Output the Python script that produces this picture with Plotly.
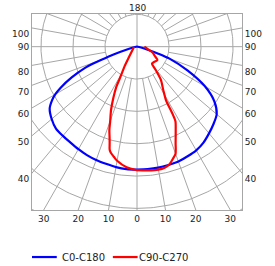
import numpy as np
import plotly.graph_objects as go

# ---- data (cd/klm, angle in degrees from nadir) ----
c0_left_angles = [90, 85, 80, 75, 72, 70, 69, 68, 65, 62, 60, 58, 55, 50, 45, 40, 35, 30, 25, 20, 15, 10, 5, 0]
c0_left_vals = [0, 1.5, 5, 15, 37.5, 60, 75, 87.5, 112.5, 135, 147.5, 156.5, 166.5, 174, 179, 180, 181, 183, 185, 186.5, 187.5, 189, 190, 190]
c0_right_angles = [0, 5, 10, 15, 20, 25, 30, 35, 40, 45, 50, 55, 60, 65, 70, 72, 75, 80, 85, 90]
c0_right_vals = [190, 190, 190, 189.5, 189, 187, 185, 181, 175, 169, 162.5, 147.5, 122.5, 87.5, 54, 35, 15, 5, 1.5, 0]

c90_left_angles = [90, 70, 50, 38, 32.5, 30, 28.5, 27.5, 25, 22.5, 20, 18.5, 17, 16, 15, 14, 12, 10, 5, 0]
c90_left_vals = [4.5, 6, 10, 20, 36.5, 47.5, 57.5, 70, 87.5, 106, 122.5, 136, 146.5, 155, 165, 169, 174, 179, 187, 191]
c90_right_angles = [0, 5, 10, 13, 15.5, 18, 20, 22, 25, 27.5, 28.2, 28.6, 31.5, 36, 39, 42, 50, 57, 63, 70, 76, 90]
c90_right_vals = [191, 192, 193, 192, 189, 182, 176, 161, 143, 130, 115, 95, 78.5, 63.5, 46.5, 35, 36, 38, 31, 26, 18.5, 11.5]

series_names = ["C0-C180", "C90-C270"]
series_colors = ["#0000ff", "#ff0000"]

ring_values = [50, 100, 150, 200, 250, 300]
spoke_angles = list(range(0, 360, 10))
side_labels = [100, 90, 80, 70, 60, 50, 40]
bottom_labels = [30, 20, 10, 0, 10, 20, 30]
bottom_angles = [-30, -20, -10, 0, 10, 20, 30]

X_MIN, X_MAX = -164, 164
Y_MIN, Y_MAX = -252.5, 50.5
GRID = "#a6a6a6"


def to_xy(angles, vals, side):
    a = np.radians(np.asarray(angles, float))
    v = np.asarray(vals, float)
    return side * v * np.sin(a), -v * np.cos(a)


fig = go.Figure()

# grid: rings
gx, gy = [], []
t = np.linspace(0, 2 * np.pi, 361)
for r in ring_values:
    gx += list(r * np.sin(t)) + [None]
    gy += list(-r * np.cos(t)) + [None]
# spokes
for a in spoke_angles:
    ar = np.radians(a)
    r0 = 0 if a % 90 == 0 else ring_values[0]
    gx += [r0 * np.sin(ar), 600 * np.sin(ar), None]
    gy += [-r0 * np.cos(ar), -600 * np.cos(ar), None]
fig.add_trace(go.Scatter(x=gx, y=gy, mode="lines", line=dict(color=GRID, width=1),
                         hoverinfo="skip", showlegend=False))

# curves
bx1, by1 = to_xy(c0_left_angles, c0_left_vals, -1)
bx2, by2 = to_xy(c0_right_angles, c0_right_vals, 1)
rx1, ry1 = to_xy(c90_left_angles, c90_left_vals, -1)
rx2, ry2 = to_xy(c90_right_angles, c90_right_vals, 1)

fig.add_trace(go.Scatter(x=np.concatenate([bx1, bx2]), y=np.concatenate([by1, by2]),
                         mode="lines", name=series_names[0], showlegend=False,
                         line=dict(color=series_colors[0], width=2.2, shape="spline", smoothing=0.7)))
fig.add_trace(go.Scatter(x=np.concatenate([rx1, rx2]), y=np.concatenate([ry1, ry2]),
                         mode="lines", name=series_names[1], showlegend=False,
                         line=dict(color=series_colors[1], width=2.2, shape="spline", smoothing=0.7)))
fig.add_trace(go.Scatter(x=[0], y=[0], yaxis="y2", mode="markers", marker=dict(opacity=0),
                         hoverinfo="skip", showlegend=False))

# tick positions where spokes reach the frame
bottom_ticks = [-Y_MIN * np.tan(np.radians(a)) for a in bottom_angles]
side_ticks = []
for lab in side_labels:
    if lab == 90:
        side_ticks.append(0.0)
    else:
        side_ticks.append(-X_MAX / np.tan(np.radians(lab)) - 9.5)

font = dict(family="DejaVu Sans, Verdana, sans-serif", size=9, color="#222222")
legend_font = dict(family="DejaVu Sans, Verdana, sans-serif", size=10, color="#222222")
axis_common = dict(showgrid=False, zeroline=False, showline=True, linecolor=GRID, linewidth=1,
                   ticks="", tickfont=font, fixedrange=True)

# manual legend (paper coordinates)
legend_y = -0.24
legend_items = [(0.0, 0.118, 0.132), (0.385, 0.503, 0.499)]
shapes, annotations = [], []
for (x0, x1, xt), name, col in zip(legend_items, series_names, series_colors):
    shapes.append(dict(type="line", xref="paper", yref="paper", x0=x0, x1=x1,
                       y0=legend_y, y1=legend_y, line=dict(color=col, width=2.2)))
    annotations.append(dict(x=xt, y=legend_y, xref="paper", yref="paper", text=name,
                            showarrow=False, xanchor="left", yanchor="middle", font=legend_font))

annotations.append(dict(x=0, y=Y_MAX, xref="x", yref="y", text="180", showarrow=False,
                        yanchor="bottom", yshift=-1, font=font))

fig.update_layout(
    width=275, height=266,
    margin=dict(l=30, r=33, t=14, b=56),
    plot_bgcolor="white", paper_bgcolor="white",
    xaxis=dict(range=[X_MIN, X_MAX], tickmode="array", tickvals=bottom_ticks,
               ticktext=[str(v) for v in bottom_labels], mirror=True, **axis_common),
    yaxis=dict(range=[Y_MIN, Y_MAX], tickmode="array", tickvals=side_ticks,
               ticktext=[str(v) for v in side_labels], mirror=True, **axis_common),
    yaxis2=dict(range=[Y_MIN, Y_MAX], overlaying="y", side="right", tickmode="array",
                tickvals=side_ticks, ticktext=[str(v) for v in side_labels], **axis_common),
    shapes=shapes,
    annotations=annotations,
    showlegend=False,
)

fig.write_html("out.html")
